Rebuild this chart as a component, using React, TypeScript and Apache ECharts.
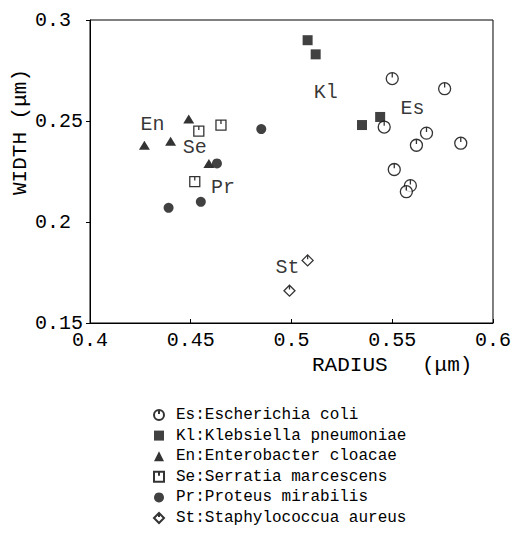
import React, { useEffect, useRef } from "react";
import * as echarts from "echarts";

// Data (radius, width in µm)
const esRadius = [0.55, 0.576, 0.546, 0.567, 0.562, 0.584, 0.551, 0.559, 0.557];
const esWidth = [0.271, 0.266, 0.247, 0.244, 0.238, 0.239, 0.226, 0.218, 0.215];
const klRadius = [0.508, 0.512, 0.535, 0.544];
const klWidth = [0.29, 0.283, 0.248, 0.252];
const enRadius = [0.449, 0.427, 0.44, 0.459];
const enWidth = [0.251, 0.238, 0.24, 0.229];
const seRadius = [0.454, 0.465, 0.452];
const seWidth = [0.245, 0.248, 0.22];
const prRadius = [0.463, 0.439, 0.455, 0.485];
const prWidth = [0.229, 0.207, 0.21, 0.246];
const stRadius = [0.508, 0.499];
const stWidth = [0.181, 0.166];

// Group tags written inside the plot
const tagNames = ["En", "Se", "Pr", "Kl", "Es", "St"];
const tagRadius = [0.431, 0.452, 0.466, 0.517, 0.56, 0.498];
const tagWidth = [0.2485, 0.237, 0.217, 0.264, 0.256, 0.1777];

const legendNames = [
  "Es:Escherichia coli",
  "Kl:Klebsiella pneumoniae",
  "En:Enterobacter cloacae",
  "Se:Serratia marcescens",
  "Pr:Proteus mirabilis",
  "St:Staphylococcua aureus",
];

const FONT = "'Liberation Mono', 'DejaVu Sans Mono', monospace";

const circleTick = "path://M0,-5A5,5,0,1,1,0,5A5,5,0,1,1,0,-5Z M0,-5L0,-1";
const squareTick = "path://M-5,-5L5,-5L5,5L-5,5Z M0,-5L0,-1";
const diamondTick = "path://M0,-5L5,0L0,5L-5,0Z M0,-5L0,-1";

const zip = (a: number[], b: number[]) => a.map((v, i) => [v, b[i]]);

export default function App() {
  const ref = useRef<HTMLDivElement>(null);
  useEffect(() => {
    if (!ref.current) return;
    const chart = echarts.init(ref.current, null, { renderer: "svg" });
    const openStyle = { color: "#fff", borderColor: "#000", borderWidth: 1.3 };
    const fmt = (v: number) => String(parseFloat(v.toFixed(2)));
    chart.setOption({
      animation: false,
      backgroundColor: "#fff",
      grid: {
        left: 90,
        top: 20,
        width: 405,
        height: 303,
        show: true,
        borderColor: "#000",
        borderWidth: 1,
      },
      xAxis: {
        type: "value",
        min: 0.4,
        max: 0.6,
        interval: 0.05,
        splitLine: { show: false },
        axisLine: { lineStyle: { color: "#000", width: 1 } },
        axisTick: { inside: true, length: 4, lineStyle: { color: "#000" } },
        axisLabel: {
          margin: 7,
          color: "#000",
          fontFamily: FONT,
          fontSize: 20,
          formatter: fmt,
        },
      },
      yAxis: {
        type: "value",
        min: 0.15,
        max: 0.3,
        interval: 0.05,
        splitLine: { show: false },
        axisLine: { lineStyle: { color: "#000", width: 1 } },
        axisTick: { inside: false, length: 4, lineStyle: { color: "#000" } },
        axisLabel: {
          margin: 55,
          align: "left",
          color: "#000",
          fontFamily: FONT,
          fontSize: 20,
          formatter: fmt,
        },
      },
      legend: {
        data: legendNames,
        orient: "vertical",
        left: 153,
        top: 405,
        padding: 0,
        itemWidth: 10,
        itemHeight: 10,
        itemGap: 0.6,
        selectedMode: false,
        textStyle: {
          color: "#000",
          fontFamily: FONT,
          fontSize: 16,
          lineHeight: 20,
          padding: [0, 0, 0, 7],
        },
      },
      graphic: [
        {
          type: "text",
          x: 20,
          y: 132,
          rotation: Math.PI / 2,
          style: {
            text: "WIDTH (μm)",
            font: `21px ${FONT}`,
            fill: "#000",
            align: "center",
            verticalAlign: "middle",
          },
        },
        {
          type: "text",
          x: 312,
          y: 365,
          style: {
            text: "RADIUS",
            font: `21px ${FONT}`,
            fill: "#000",
            align: "left",
            verticalAlign: "middle",
          },
        },
        {
          type: "text",
          x: 422,
          y: 365,
          style: {
            text: "(μm)",
            font: `21px ${FONT}`,
            fill: "#000",
            align: "left",
            verticalAlign: "middle",
          },
        },
      ],
      series: [
        {
          name: legendNames[1],
          type: "scatter",
          symbol: "rect",
          symbolSize: 10,
          itemStyle: { color: "#111" },
          data: zip(klRadius, klWidth),
        },
        {
          name: legendNames[2],
          type: "scatter",
          symbol: "triangle",
          symbolSize: [11, 9],
          itemStyle: { color: "#000" },
          data: zip(enRadius, enWidth),
        },
        {
          name: legendNames[3],
          type: "scatter",
          symbol: squareTick,
          symbolSize: 10,
          itemStyle: openStyle,
          data: zip(seRadius, seWidth),
        },
        {
          name: legendNames[4],
          type: "scatter",
          symbol: "circle",
          symbolSize: 10,
          itemStyle: { color: "#111" },
          data: zip(prRadius, prWidth),
        },
        {
          name: legendNames[5],
          type: "scatter",
          symbol: diamondTick,
          symbolSize: 11,
          itemStyle: openStyle,
          data: zip(stRadius, stWidth),
        },
        {
          name: legendNames[0],
          type: "scatter",
          symbol: circleTick,
          symbolSize: 12,
          itemStyle: openStyle,
          data: zip(esRadius, esWidth),
        },
        {
          name: "tags",
          type: "scatter",
          silent: true,
          symbolSize: 1,
          itemStyle: { color: "rgba(0,0,0,0)" },
          label: {
            show: true,
            position: "inside",
            color: "#000",
            fontFamily: FONT,
            fontSize: 20,
            formatter: (p: any) => p.name,
          },
          data: tagNames.map((n, i) => ({ name: n, value: [tagRadius[i], tagWidth[i]] })),
        },
      ],
    });
    return () => chart.dispose();
  }, []);
  return (
    <div
      ref={ref}
      style={{ position: "fixed", left: 0, top: 0, width: 514, height: 541 }}
    />
  );
}
